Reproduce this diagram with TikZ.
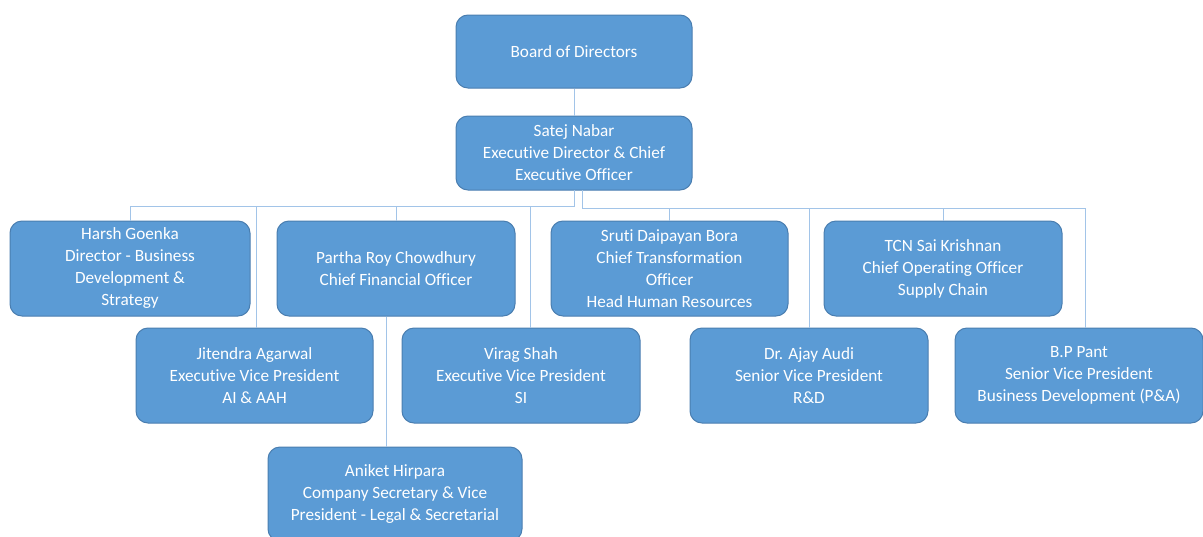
\documentclass[tikz,border=0pt]{standalone}
\usepackage{fontspec}
\setmainfont{Carlito}[Ligatures={NoCommon}]
\definecolor{boxfill}{HTML}{5B9BD5}
\definecolor{boxborder}{HTML}{4A7EB0}
\definecolor{linkc}{HTML}{A2C4E8}
\begin{document}
\begin{tikzpicture}[x=1pt,y=-1pt,
  box/.style={draw=boxborder, fill=boxfill, rounded corners=12pt, line width=1pt,
    text=white, align=center, font=\fontsize{17.2}{22}\selectfont, inner sep=0pt,
    minimum width=238pt, minimum height=95pt},
  link/.style={draw=linkc, line width=1pt}]
\useasboundingbox (0,0) rectangle (1203,536);
% nodes
\node[box, minimum width=236pt, minimum height=73pt] (board) at (574,51.5) {Board of Directors};
\node[box, minimum width=236pt, minimum height=74pt] (ceo) at (574,153) {Satej Nabar\\Executive Director \& Chief\\Executive Officer};
\node[box, minimum width=240pt] (harsh) at (130,268.5) {Harsh Goenka\\Director - Business\\Development \&\\Strategy};
\node[box] (partha) at (396,268.5) {Partha Roy Chowdhury\\Chief Financial Officer};
\node[box, minimum width=237pt] (sruti) at (669.5,268.5) {Sruti Daipayan Bora\\Chief Transformation\\Officer\\Head Human Resources};
\node[box] (tcn) at (943,268.5) {TCN Sai Krishnan\\Chief Operating Officer\\Supply Chain};
\node[box, minimum width=237pt] (jitendra) at (254.5,375.5) {Jitendra Agarwal\\Executive Vice President\\AI \& AAH};
\node[box] (virag) at (521,375.5) {Virag Shah\\Executive Vice President\\SI};
\node[box] (ajay) at (809,375.5) {Dr. Ajay Audi\\Senior Vice President\\R\&D};
\node[box, minimum width=248pt] (bp) at (1079,375.5) {B.P Pant\\Senior Vice President\\Business Development (P\&A)};
\node[box, minimum width=254pt, minimum height=94pt] (aniket) at (395,494) {Aniket Hirpara\\Company Secretary \& Vice\\President - Legal \& Secretarial};
% connectors
\coordinate (cl) at (574,190);
\coordinate (cr) at (582,190);
\draw[link] (board.south) -- (ceo.north);
\draw[link] (cl) -- ++(0,16) -| (harsh.north);
\draw[link] (cl) -- ++(0,16) -| ([xshift=1.5pt]jitendra.north);
\draw[link] (cl) -- ++(0,16) -| (partha.north);
\draw[link] (cl) -- ++(0,16) -| ([xshift=9pt]virag.north);
\draw[link] (cr) -- ++(0,18) -| (sruti.north);
\draw[link] (cr) -- ++(0,18) -| (ajay.north);
\draw[link] (cr) -- ++(0,18) -| (tcn.north);
\draw[link] (cr) -- ++(0,18) -| ([xshift=6pt]bp.north);
\draw[link] ([xshift=-10pt]partha.south) -- ([xshift=-9pt]aniket.north);
\end{tikzpicture}
\end{document}
